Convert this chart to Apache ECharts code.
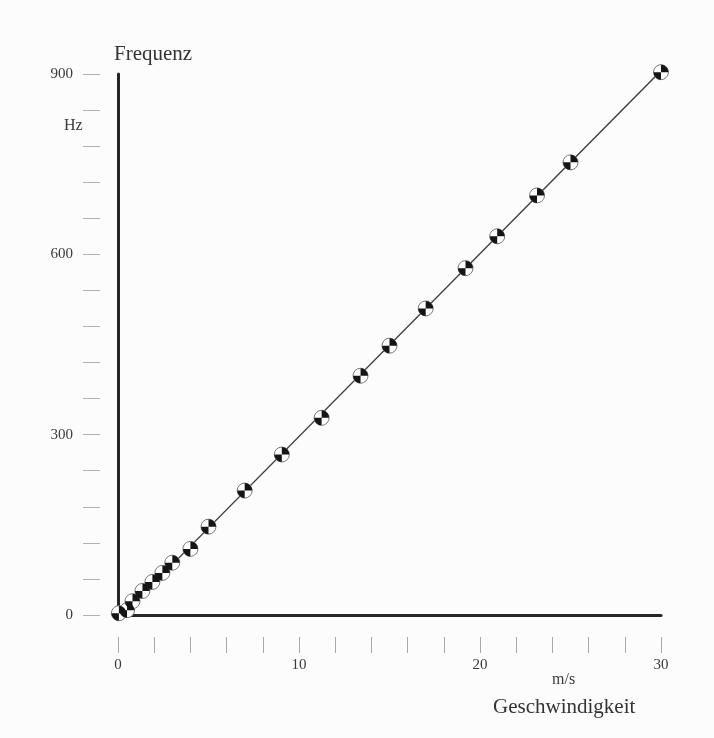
<!DOCTYPE html>
<html>
<head>
<meta charset="utf-8">
<title>Frequenz über Geschwindigkeit</title>
<script src="https://cdn.jsdelivr.net/npm/echarts@6/dist/echarts.min.js"></script>
<style>
  html, body { margin: 0; padding: 0; background: #fcfcfc; }
  #chart { width: 714px; height: 738px; }
</style>
</head>
<body>
<div id="chart"></div>
<script>
// Messpunkte: Geschwindigkeit (m/s) und gemessene Frequenz (Hz)
const speed = [0.05, 0.5, 0.8, 1.35, 1.9, 2.45, 3.0, 4.0, 5.0, 7.0, 9.05, 11.25, 13.4, 15.0, 17.0, 19.2, 20.95, 23.15, 25.0, 30.0];
const freq  = [3, 8, 23, 40, 55, 70, 87, 110, 147, 207, 267, 328, 398, 448, 510, 577, 630, 698, 753, 903];

// Ausgleichsgerade (Endpunkte)
const fitSpeed = [-1.8, 31.3];
const fitFreq  = [-62, 945];

// Beschriftete Achsenwerte
const xTickLabels = [0, 10, 20, 30];
const yTickLabels = [0, 300, 600, 900];

const FONT = 'Liberation Serif';
const TEXT = '#3a3a3a';

const points = speed.map((s, i) => [s, freq[i]]);
const fitLine = fitSpeed.map((s, i) => [s, fitFreq[i]]);

// Messmarke: Kreis mit zwei schwarzen Vierteln (oben rechts, unten links)
const quadrants = 'path://M50,50 L50,0 A50,50 0 0,1 100,50 Z M50,50 L50,100 A50,50 0 0,1 0,50 Z';

const chart = echarts.init(document.getElementById('chart'));

const X_RANGE = { type: 'value', min: 0, max: 30, interval: 2, splitLine: { show: false } };
const Y_RANGE = { type: 'value', min: 0, max: 900, interval: 60, splitLine: { show: false } };
const hidden = { show: false };

chart.setOption({
  backgroundColor: '#fcfcfc',
  animation: false,
  // Raster 0: Diagramm mit kräftigen Achsenlinien
  // Raster 1: abgesetzte Skala unter der x-Achse
  // Raster 2: abgesetzte Skala links der y-Achse
  grid: [
    { left: 118, right: 53, top: 74, bottom: 123 },
    { left: 118, right: 53, top: 74, bottom: 101 },
    { left: 100, right: 53, top: 74, bottom: 123 }
  ],
  xAxis: [
    Object.assign({}, X_RANGE, {
      gridIndex: 0,
      axisLine: { show: true, lineStyle: { color: '#262626', width: 3 } },
      axisTick: hidden,
      axisLabel: hidden
    }),
    Object.assign({}, X_RANGE, {
      gridIndex: 1,
      axisLine: hidden,
      axisTick: { show: true, length: 16, lineStyle: { color: '#a8a8a8', width: 1 } },
      axisLabel: {
        show: true, margin: 21, fontFamily: FONT, fontSize: 15, color: TEXT,
        formatter: v => xTickLabels.includes(v) ? String(v) : ''
      }
    }),
    Object.assign({}, X_RANGE, { gridIndex: 2, show: false })
  ],
  yAxis: [
    Object.assign({}, Y_RANGE, {
      gridIndex: 0,
      axisLine: { show: true, lineStyle: { color: '#262626', width: 3 } },
      axisTick: hidden,
      axisLabel: hidden,
      name: 'Frequenz',
      nameLocation: 'end',
      nameGap: 9,
      nameTextStyle: { fontFamily: FONT, fontSize: 21, color: '#333', align: 'left', padding: [0, 0, 0, -4] }
    }),
    Object.assign({}, Y_RANGE, { gridIndex: 1, show: false }),
    Object.assign({}, Y_RANGE, {
      gridIndex: 2,
      axisLine: hidden,
      axisTick: { show: true, length: 17, lineStyle: { color: '#b0b0b0', width: 1 } },
      axisLabel: {
        show: true, margin: 27, fontFamily: FONT, fontSize: 15, color: TEXT,
        formatter: v => yTickLabels.includes(v) ? String(v) : ''
      }
    })
  ],
  graphic: [
    { type: 'text', left: 64, top: 118, style: { text: 'Hz', font: '16px "Liberation Serif"', fill: TEXT } },
    { type: 'text', left: 552, top: 672, style: { text: 'm/s', font: '16px "Liberation Serif"', fill: TEXT } },
    { type: 'text', left: 493, top: 697, style: { text: 'Geschwindigkeit', font: '21px "Liberation Serif"', fill: '#333' } }
  ],
  series: [
    {
      type: 'line',
      xAxisIndex: 0, yAxisIndex: 0,
      data: fitLine,
      clip: false,
      symbol: 'none',
      z: 2,
      lineStyle: { color: '#3a3a3a', width: 1.3 }
    },
    {
      type: 'scatter',
      xAxisIndex: 0, yAxisIndex: 0,
      data: points,
      clip: false,
      symbol: 'circle',
      symbolSize: 15,
      z: 3,
      itemStyle: { color: '#ffffff', borderColor: '#777', borderWidth: 1, opacity: 1 }
    },
    {
      type: 'scatter',
      xAxisIndex: 0, yAxisIndex: 0,
      data: points,
      clip: false,
      symbol: quadrants,
      symbolSize: 15,
      z: 4,
      itemStyle: { color: '#151515', opacity: 1 }
    }
  ]
});
</script>
</body>
</html>
